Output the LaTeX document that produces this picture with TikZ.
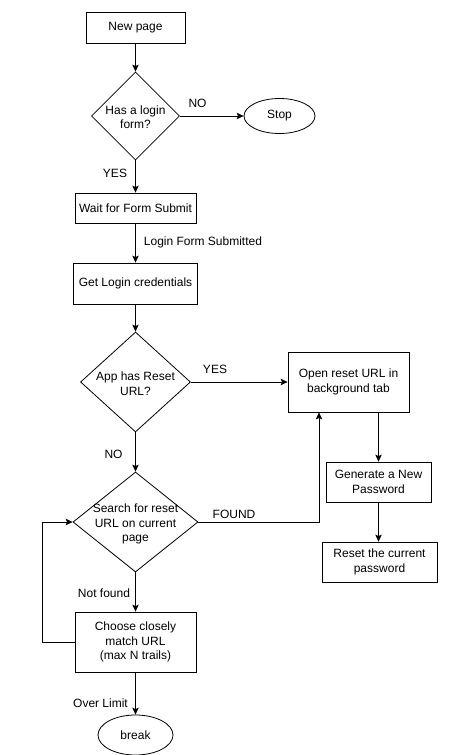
\documentclass[tikz,border=0pt]{standalone}
\usepackage{fontspec}
\setmainfont{Liberation Sans}
\usetikzlibrary{shapes.geometric,arrows.meta}
\begin{document}
\begin{tikzpicture}[x=1pt,y=-1pt,
  every node/.style={font=\fontsize{12}{14.5}\selectfont, inner sep=0pt},
  box/.style={draw, rectangle, align=center, line width=0.8pt},
  dia/.style={draw, diamond, line width=0.8pt},
  term/.style={draw, ellipse, line width=0.8pt},
  txt/.style={align=center},
  lbl/.style={},
  arr/.style={-{Stealth[length=7pt,width=6.5pt,inset=1.5pt]}, line width=0.8pt}]
\useasboundingbox (0,0) rectangle (456,755);

\node[box, minimum width=99, minimum height=31] (new) at (135.5,27.5) {New page};
\node[dia, minimum width=88, minimum height=88] (d1) at (135.5,116) {};
\node[txt] (d1t) at (135.5,117) {Has a login\\form?};
\node[term, minimum width=71, minimum height=35] (stop) at (279.5,116) {Stop};
\node[box, minimum width=121, minimum height=30] (wait) at (135.5,208) {Wait for Form Submit};
\node[box, minimum width=124, minimum height=41] (get) at (135.5,283.5) {Get Login credentials};
\node[dia, minimum width=110, minimum height=100] (d2) at (135.5,382) {};
\node[txt] (d2t) at (135.5,383.5) {App has Reset\\URL?};
\node[box, minimum width=121, minimum height=60] (open) at (348.5,382) {Open reset URL in\\background tab};
\node[box, minimum width=105, minimum height=40] (gen) at (378.5,482) {Generate a New\\Password};
\node[box, minimum width=115, minimum height=40] (reset) at (379.5,562) {Reset the current\\password};
\node[dia, minimum width=125, minimum height=100] (d3) at (135.5,522) {};
\node[txt] (d3t) at (135.5,524) {Search for reset\\URL on current\\page};
\node[box, minimum width=121, minimum height=60] (choose) at (135.5,642) {Choose closely\\match URL\\(max N trails)};
\node[term, minimum width=75, minimum height=40] (brk) at (135.5,735) {break};

\draw[arr] (new) -- (d1);
\draw[arr] (d1) -- (stop);
\draw[arr] (d1) -- (wait);
\draw[arr] (wait) -- (get);
\draw[arr] (get) -- (d2);
\draw[arr] (d2) -- (open);
\draw[arr] (d2) -- (d3);
\draw[arr] (open.south -| gen.north) -- (gen.north);
\draw[arr] (gen.south) -- (gen.south |- reset.north);
\draw[arr] (d3.east) -| ([xshift=-29.5]open.south);
\draw[arr] (d3) -- (choose);
\draw[arr] (choose.west) -- ++(-32,0) |- (d3.west);
\draw[arr] (choose) -- (brk);

\node[lbl] (lno1) at (197.5,103) {NO};
\node[lbl] (lyes1) at (115,173) {YES};
\node[lbl] (lsub) at (203,242) {Login Form Submitted};
\node[lbl] (lyes2) at (215,369) {YES};
\node[lbl] (lno2) at (113.5,454) {NO};
\node[lbl] (lfound) at (234,514) {FOUND};
\node[lbl] (lnf) at (104,593) {Not found};
\node[lbl] (lover) at (100.5,703) {Over Limit};
\end{tikzpicture}
\end{document}
